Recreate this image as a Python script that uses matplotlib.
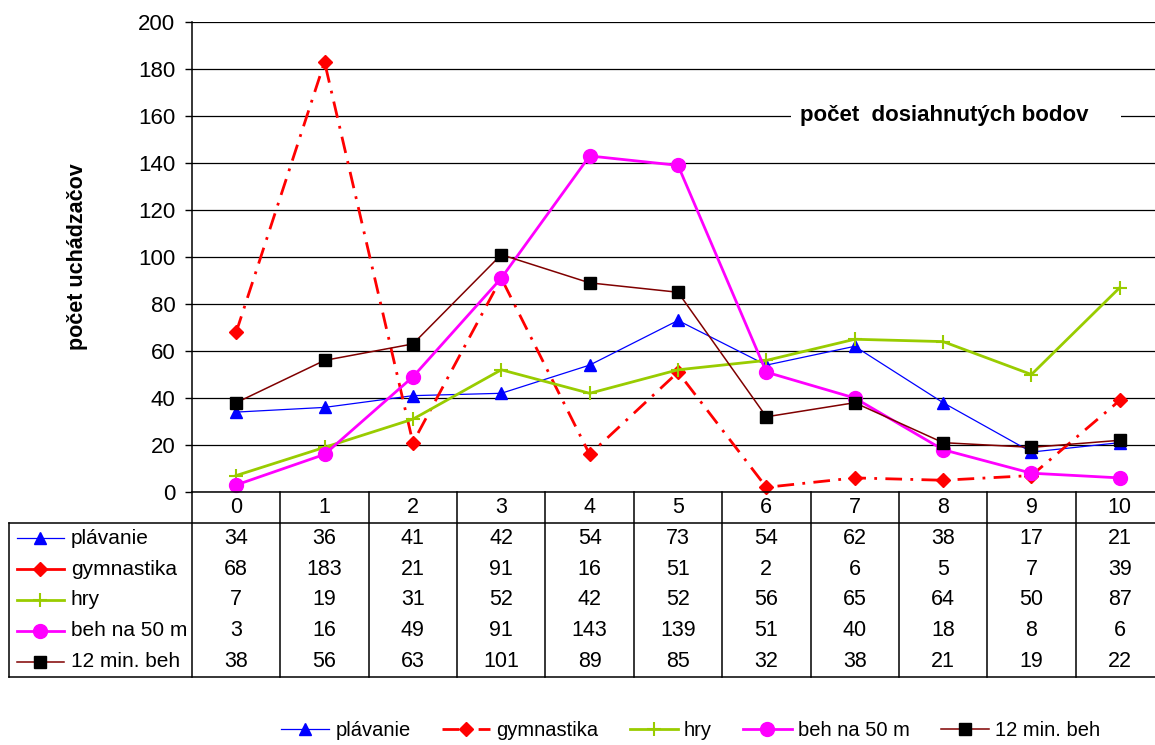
import numpy as np
import matplotlib.pyplot as plt
from matplotlib.lines import Line2D

plt.rcParams['font.family'] = ['Liberation Sans', 'DejaVu Sans']

body = list(range(11))
names = ['plávanie', 'gymnastika', 'hry', 'beh na 50 m', '12 min. beh']
plavanie = [34, 36, 41, 42, 54, 73, 54, 62, 38, 17, 21]
gymnastika = [68, 183, 21, 91, 16, 51, 2, 6, 5, 7, 39]
hry = [7, 19, 31, 52, 42, 52, 56, 65, 64, 50, 87]
beh50 = [3, 16, 49, 91, 143, 139, 51, 40, 18, 8, 6]
beh12 = [38, 56, 63, 101, 89, 85, 32, 38, 21, 19, 22]
series = [plavanie, gymnastika, hry, beh50, beh12]

styles = [
    dict(color='#0000FF', lw=0.9, marker='^', ms=8.5, mfc='#0000FF', mec='#0000FF'),
    dict(color='#FF0000', lw=2, ls=(0, (6, 3, 1, 3)), marker='D', ms=7, mfc='#FF0000', mec='#FF0000'),
    dict(color='#99CC00', lw=2, marker='+', ms=10, mew=1.5),
    dict(color='#FF00FF', lw=2, marker='o', ms=10, mfc='#FF00FF', mec='#FF00FF'),
    dict(color='#800000', lw=1.1, marker='s', ms=8.5, mfc='black', mec='black'),
]

W, H = 1155, 745
fig = plt.figure(figsize=(W / 100, H / 100), dpi=100)

# plot area in pixels: x 192..1164, y 22..492
x0, x1, ytop, y0 = 192, 1164, 22, 492
ax = fig.add_axes([x0 / W, 1 - y0 / H, (x1 - x0) / W, (y0 - ytop) / H])
ax.set_xlim(-0.5, 10.5)
ax.set_ylim(0, 200)
ax.set_yticks(range(0, 201, 20))
ax.yaxis.grid(True, color='black', lw=0.9)
ax.set_axisbelow(True)
for s in ['top', 'right']:
    ax.spines[s].set_visible(False)
ax.spines['left'].set_linewidth(1.1)
ax.spines['bottom'].set_linewidth(1.1)
ax.set_xticks([])
ax.tick_params(axis='y', direction='out', length=5, width=1, labelsize=16, pad=7)
ax.set_ylabel('počet uchádzačov', fontsize=15.5, fontweight='bold', labelpad=36)

handles = []
for vals, name, st in zip(series, names, styles):
    h, = ax.plot(body, vals, label=name, clip_on=False, **st)
    handles.append(h)

ax.text(6.38, 160, 'počet  dosiahnutých bodov    ', fontsize=16, fontweight='bold',
        ha='left', va='center',
        bbox=dict(facecolor='white', edgecolor='none', pad=6))

# data table under the plot
tl, tb = 9, 677
unit = (x1 - x0) / 11
tx = fig.add_axes([tl / W, 1 - tb / H, (x1 - tl) / W, (tb - y0) / H])
left = -0.5 - (x0 - tl) / unit
tx.set_xlim(left, 10.5)
tx.set_ylim(6, 0)
tx.axis('off')
tx.plot([left, 10.5], [1, 1], color='black', lw=1.1, clip_on=False)
tx.plot([left, 10.5], [6, 6], color='black', lw=1.1, clip_on=False)
tx.plot([left, left], [1, 6], color='black', lw=1.1, clip_on=False)
for b in body:
    tx.plot([b - 0.5, b - 0.5], [0, 6], color='black', lw=1.1, clip_on=False)
    tx.text(b, 0.5, str(b), ha='center', va='center', fontsize=15.5)
for r, (vals, name, st) in enumerate(zip(series, names, styles)):
    yc = r + 1.5
    for b, v in zip(body, vals):
        tx.text(b, yc, str(v), ha='center', va='center', fontsize=15.5)
    st2 = dict(st)
    st2.pop('ls', None)
    tx.plot([left + 0.09, left + 0.62], [yc, yc], markevery=[], **st2)
    tx.plot([left + 0.355], [yc], **{k: v for k, v in st2.items() if k not in ('lw',)})
    tx.text(left + 0.7, yc, name, ha='left', va='center', fontsize=15)

fig.legend(handles=handles, loc='center', bbox_to_anchor=(0.598, 0.019), ncol=5,
           frameon=False, fontsize=14.5, handlelength=2.4, columnspacing=1.55,
           handletextpad=0.3)

fig.savefig('out.png', dpi=100)
